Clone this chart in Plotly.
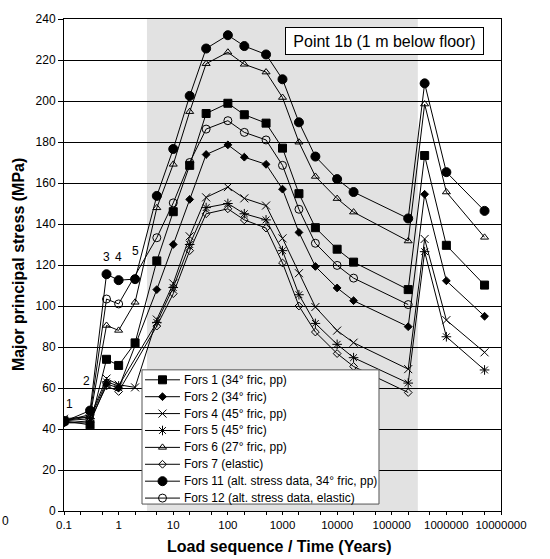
import math
import plotly.graph_objects as go

# Load steps / time in years
years = [0.1, 0.3, 0.6, 1, 2, 5, 10, 20, 40, 100, 200, 500, 1000, 2000, 4000,
         10000, 20000, 200000, 400000, 1000000, 5000000]

# Major principal stress (MPa) for each model run
fors1 = [44, 42, 74, 71, 82, 122, 146, 168.6, 193.9, 198.9, 193.3, 189.2, 177, 154.8,
         138.2, 127.7, 121.4, 108, 173.4, 129.6, 110.2]
fors2 = [43, 43, 62, 60, None, 108, 130, 152, 173.9, 178.6, 172.6, 169.1, 157, 135.9,
         119.3, 108.8, 102.6, 89.9, 154.5, 112.3, 95]
fors4 = [45, 46, 64.6, 61.6, 60.3, 93.4, 111, 134, 153, 158, 152.5, 149, 133, 116,
         99.5, 88, 82.1, 69.2, 132.7, 93.1, 77.4]
fors5 = [44, 45, 63, 61, None, 92, 109, 130, 148, 150, 145, 142, 127, 105.5,
         91.5, 81.3, 74.8, 62.4, 126.5, 85, 68.8]
fors6 = [44, 46, 90.5, 88.1, 101.8, 147.9, 169.1, 194.8, 218.2, 223.8, 217.9, 214.1,
         201.7, 179.9, 163.2, 152.4, 145.8, 131.7, 198.5, 155.6, 133.5]
fors7 = [43, 44, 61, 58.3, None, 90.2, 106, 127, 145, 147.4, 142, 138, 121, 100,
         87.3, 76.8, 70.5, 57.8, None, None, None]
fors11 = [43.6, 49, 115.5, 112.6, 113.1, 153.7, 176.6, 202.5, 225.6, 232.1, 226.8,
          222.7, 210.6, 189.6, 172.9, 161.9, 155.6, 142.7, 208.6, 165.3, 146.4]
fors12 = [44, 47, 103.4, 101, None, 133.3, 150.3, 170, 186.3, 190.4, 184.7, 181,
          168.6, 147.2, 130.6, 119.8, 113.6, 100.7, None, None, None]

series_names = ["Fors 1 (34° fric, pp)", "Fors 2 (34° fric)", "Fors 4 (45° fric, pp)",
                "Fors 5 (45° fric)", "Fors 6 (27° fric, pp)", "Fors 7 (elastic)",
                "Fors 11 (alt. stress data, 34° fric, pp)",
                "Fors 12 (alt. stress data, elastic)"]
series_values = [fors1, fors2, fors4, fors5, fors6, fors7, fors11, fors12]

# Load sequence step labels
step_labels = ["1", "2", "3", "4", "5"]
step_x = [0.125, 0.26, 0.6, 1, 2]
step_y = [52, 63.5, 124, 124, 127]

# Shaded period
shade_start, shade_end = 3.3, 300000

marker_styles = [
    dict(symbol="square", size=8),
    dict(symbol="diamond", size=6),
    dict(symbol="x-thin-open", size=8),
    dict(symbol="asterisk-open", size=8),
    dict(symbol="triangle-up-open", size=7),
    dict(symbol="diamond-open", size=6),
    dict(symbol="circle", size=9),
    dict(symbol="circle-open", size=8),
]

FONT = "Liberation Sans, Arial, sans-serif"


def marker(ms):
    return dict(symbol=ms["symbol"], size=ms["size"], color="black",
                line=dict(color="black", width=1))


fig = go.Figure()
for name, vals, ms in zip(series_names, series_values, marker_styles):
    fig.add_trace(go.Scatter(
        x=years, y=vals, name=name, mode="lines+markers",
        connectgaps=True, showlegend=False,
        line=dict(color="black", width=1), marker=marker(ms),
    ))

fig.add_shape(type="rect", xref="x", yref="paper",
              x0=shade_start, x1=shade_end, y0=0, y1=1,
              fillcolor="#e2e2e2", line=dict(width=0), layer="below")

for t, xv, yv in zip(step_labels, step_x, step_y):
    fig.add_annotation(x=math.log10(xv), y=yv, xref="x", yref="y", text=t,
                       showarrow=False,
                       font=dict(size=12, color="black", family=FONT))

# Legend box drawn on an overlay axis pair spanning the plot area (0..1)
leg_x0, leg_x1 = 0.1785, 0.7208
leg_y0, leg_y1 = 0.0141, 0.2869
row_h = 17 / 495
row_top = (511 - 379) / 495
line_x0, line_x1, mark_x, text_x = 0.1854, 0.2654, 0.2254, 0.2700

fig.add_trace(go.Scatter(
    x=[leg_x0, leg_x1, leg_x1, leg_x0, leg_x0],
    y=[leg_y0, leg_y0, leg_y1, leg_y1, leg_y0],
    xaxis="x2", yaxis="y2", mode="lines", fill="toself", fillcolor="white",
    line=dict(color="#555555", width=1), showlegend=False, hoverinfo="skip"))

for i, (name, ms) in enumerate(zip(series_names, marker_styles)):
    yc = row_top - i * row_h
    fig.add_trace(go.Scatter(
        x=[line_x0, mark_x, line_x1], y=[yc, yc, yc], xaxis="x2", yaxis="y2",
        mode="lines+markers", line=dict(color="black", width=1),
        marker=dict(marker(ms), opacity=1),
        selectedpoints=[1], unselected=dict(marker=dict(opacity=0)),
        showlegend=False, hoverinfo="skip"))
    fig.add_annotation(x=text_x, y=yc, xref="paper", yref="paper", text=name,
                       showarrow=False, xanchor="left", yanchor="middle",
                       font=dict(size=12, color="black", family=FONT))

fig.add_annotation(x=0.5057, y=0.9838, xref="paper", yref="paper",
                   text="Point 1b (1 m below floor)", showarrow=False,
                   xanchor="left", yanchor="top", width=193, height=22,
                   align="center", valign="middle",
                   font=dict(size=16, color="black", family=FONT),
                   bgcolor="white", bordercolor="black", borderwidth=1, borderpad=2)

fig.add_annotation(x=-0.105, y=0.5, xref="paper", yref="paper",
                   xanchor="center", yanchor="middle",
                   text="<b>Major principal stress (MPa)</b>", textangle=-90,
                   showarrow=False, font=dict(size=16, color="black", family=FONT))
fig.add_annotation(x=0.494, y=-0.0727, xref="paper", yref="paper",
                   xanchor="center", yanchor="middle",
                   text="<b>Load sequence / Time (Years)</b>", showarrow=False,
                   font=dict(size=16, color="black", family=FONT))
fig.add_annotation(x=-0.133, y=-0.021, xref="paper", yref="paper", text="0",
                   xanchor="center", yanchor="middle",
                   showarrow=False, font=dict(size=12, color="black", family=FONT))

fig.update_xaxes(type="log", range=[-1, 7],
                 tickvals=[0.1, 1, 10, 100, 1000, 10000, 100000, 1000000, 10000000],
                 ticktext=["0.1", "1", "10", "100", "1000", "10000", "100000",
                           "1000000", "10000000"],
                 ticks="outside", ticklen=3, tickcolor="black",
                 minor=dict(ticks="outside", ticklen=3, tickcolor="black", showgrid=False),
                 showgrid=False, showline=True, linecolor="black", linewidth=1,
                 mirror=True, tickfont=dict(size=11.5, color="black", family=FONT))
fig.update_yaxes(range=[0, 240], dtick=20, ticks="outside", ticklen=5,
                 tickcolor="black", showgrid=True, gridcolor="black", gridwidth=1,
                 zeroline=False, showline=True, linecolor="black", linewidth=1,
                 mirror=True, tickfont=dict(size=12, color="black", family=FONT))

fig.update_layout(
    width=550, height=559,
    margin=dict(l=64, r=49, t=16, b=48),
    paper_bgcolor="white", plot_bgcolor="white",
    font=dict(family=FONT, color="black"),
    showlegend=False,
    xaxis2=dict(overlaying="x", anchor="y2", range=[0, 1], visible=False,
                fixedrange=True),
    yaxis2=dict(overlaying="y", anchor="x2", range=[0, 1], visible=False,
                fixedrange=True),
)

fig.write_html("out.html")
